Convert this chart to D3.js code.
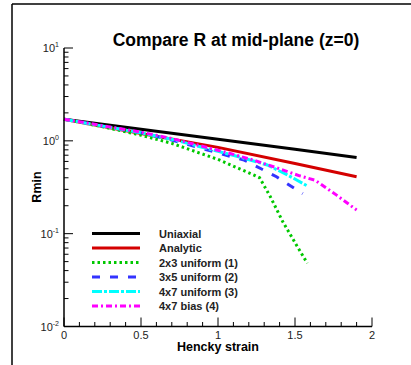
<!DOCTYPE html>
<html>
<head>
<script src="https://d3js.org/d3.v7.min.js"></script>
<style>
  body { margin: 0; background: #fff; }
  svg { font-family: "Liberation Sans", Arial, sans-serif; }
</style>
</head>
<body>
<svg width="411" height="365"></svg>
<script>
// series data (strain, Rmin)
var uniaxialX = [0, 0.5, 1.0, 1.5, 1.9];
var uniaxialR = [1.71, 1.33, 1.04, 0.81, 0.66];
var analyticX = [0, 0.5, 1.0, 1.5, 1.9];
var analyticR = [1.71, 1.20, 0.85, 0.57, 0.41];
var g23X = [0, 0.25, 0.5, 0.7, 1.0, 1.14, 1.23, 1.27, 1.34, 1.42, 1.51, 1.58];
var g23R = [1.71, 1.42, 1.15, 0.94, 0.63, 0.50, 0.43, 0.40, 0.25, 0.135, 0.075, 0.048];
var g35X = [0, 0.5, 0.7, 1.0, 1.17, 1.28, 1.38, 1.55];
var g35R = [1.71, 1.22, 1.02, 0.74, 0.62, 0.50, 0.41, 0.27];
var g47X = [0, 0.5, 0.7, 1.0, 1.14, 1.32, 1.45, 1.575];
var g47R = [1.71, 1.22, 1.04, 0.77, 0.67, 0.55, 0.43, 0.33];
var biasX = [0, 0.5, 0.7, 1.08, 1.23, 1.40, 1.53, 1.63, 1.77, 1.9];
var biasR = [1.71, 1.24, 1.06, 0.73, 0.62, 0.50, 0.42, 0.377, 0.26, 0.18];

var seriesNames = ["Uniaxial", "Analytic", "2x3 uniform (1)", "3x5 uniform (2)", "4x7 uniform (3)", "4x7 bias (4)"];
var xTicks = [0, 0.5, 1, 1.5, 2];
var yTickExp = [-2, -1, 0, 1];

var series = [
  {name: seriesNames[0], x: uniaxialX, r: uniaxialR, color: "#000000", dash: null},
  {name: seriesNames[1], x: analyticX, r: analyticR, color: "#d40000", dash: null},
  {name: seriesNames[2], x: g23X, r: g23R, color: "#00c800", dash: "2.5 3"},
  {name: seriesNames[3], x: g35X, r: g35R, color: "#3333ff", dash: "8 10"},
  {name: seriesNames[4], x: g47X, r: g47R, color: "#00ffff", dash: "10 2 3 2"},
  {name: seriesNames[5], x: biasX, r: biasR, color: "#ff00ff", dash: "6 3 2 3"}
];

var svg = d3.select("svg");

// outer frame (left and top only visible)
svg.append("line").attr("x1", 12).attr("y1", 4).attr("x2", 12).attr("y2", 365)
  .attr("stroke", "#000").attr("stroke-width", 1.5);
svg.append("line").attr("x1", 12).attr("y1", 4).attr("x2", 411).attr("y2", 4)
  .attr("stroke", "#000").attr("stroke-width", 1.5);

var x = d3.scaleLinear().domain([0, 2]).range([64, 372]);
var y = d3.scaleLog().domain([0.01, 10]).range([326.5, 48]);

// curves
var line = d3.line()
  .x(function(d){ return x(d[0]); })
  .y(function(d){ return y(d[1]); });

svg.append("g").selectAll("path")
  .data(series)
  .enter()
  .append("path")
    .attr("d", function(s){ return line(d3.zip(s.x, s.r)); })
    .attr("fill", "none")
    .attr("stroke", function(s){ return s.color; })
    .attr("stroke-width", 3)
    .attr("stroke-dasharray", function(s){ return s.dash; });

// axes
var ax = svg.append("g");
ax.append("line").attr("x1", x(0)).attr("x2", x(2)).attr("y1", y(0.01)).attr("y2", y(0.01))
  .attr("stroke", "#000").attr("stroke-width", 1.5);
ax.append("line").attr("x1", x(0)).attr("x2", x(0)).attr("y1", y(0.01)).attr("y2", y(10))
  .attr("stroke", "#000").attr("stroke-width", 1.5);

var xMinor = d3.range(0, 21).map(function(i){ return i / 10; });
ax.selectAll(".xt")
  .data(xMinor)
  .enter()
  .append("line")
    .attr("x1", function(d){ return x(d); })
    .attr("x2", function(d){ return x(d); })
    .attr("y1", y(0.01))
    .attr("y2", function(d, i){ return y(0.01) - (i % 5 === 0 ? 9 : 4.5); })
    .attr("stroke", "#000").attr("stroke-width", 1);

ax.selectAll(".xl")
  .data(xTicks)
  .enter()
  .append("text")
    .attr("x", function(d){ return x(d); })
    .attr("y", 339)
    .attr("text-anchor", "middle")
    .attr("font-size", 11)
    .attr("fill", "#222")
    .text(function(d){ return d; });

var yMinor = [];
[-2, -1, 0].forEach(function(e){
  for (var k = 1; k <= 9; k++) yMinor.push({v: k * Math.pow(10, e), major: k === 1});
});
yMinor.push({v: 10, major: true});
ax.selectAll(".yt")
  .data(yMinor)
  .enter()
  .append("line")
    .attr("x1", x(0))
    .attr("x2", function(d){ return x(0) + (d.major ? 9 : 4.5); })
    .attr("y1", function(d){ return y(d.v); })
    .attr("y2", function(d){ return y(d.v); })
    .attr("stroke", "#000").attr("stroke-width", 1);

var yl = ax.selectAll(".yl")
  .data(yTickExp)
  .enter()
  .append("text")
    .attr("x", 59)
    .attr("y", function(d){ return y(Math.pow(10, d)) + 4; })
    .attr("text-anchor", "end")
    .attr("font-size", 11)
    .attr("fill", "#222");
yl.append("tspan").text("10");
yl.append("tspan").attr("dy", -5).attr("font-size", 7).text(function(d){ return d; });

// titles
svg.append("text")
  .attr("x", 236).attr("y", 46)
  .attr("text-anchor", "middle")
  .attr("font-size", 17.5).attr("font-weight", "bold")
  .text("Compare R at mid-plane (z=0)");

svg.append("text")
  .attr("x", 218).attr("y", 351)
  .attr("text-anchor", "middle")
  .attr("font-size", 12.5).attr("font-weight", "bold")
  .text("Hencky strain");

svg.append("text")
  .attr("transform", "translate(41,187) rotate(-90)")
  .attr("text-anchor", "middle")
  .attr("font-size", 12.5).attr("font-weight", "bold")
  .text("Rmin");

// legend
var leg = svg.append("g");
leg.selectAll("line")
  .data(series)
  .enter()
  .append("line")
    .attr("x1", 92).attr("x2", 140)
    .attr("y1", function(d, i){ return 233.5 + i * 14.5; })
    .attr("y2", function(d, i){ return 233.5 + i * 14.5; })
    .attr("stroke", function(d){ return d.color; })
    .attr("stroke-width", 3)
    .attr("stroke-dasharray", function(d){ return d.dash; });
leg.selectAll("text")
  .data(series)
  .enter()
  .append("text")
    .attr("x", 159)
    .attr("y", function(d, i){ return 237.5 + i * 14.5; })
    .attr("font-size", 11).attr("font-weight", "bold")
    .attr("fill", "#222")
    .text(function(d){ return d.name; });
</script>
</body>
</html>
